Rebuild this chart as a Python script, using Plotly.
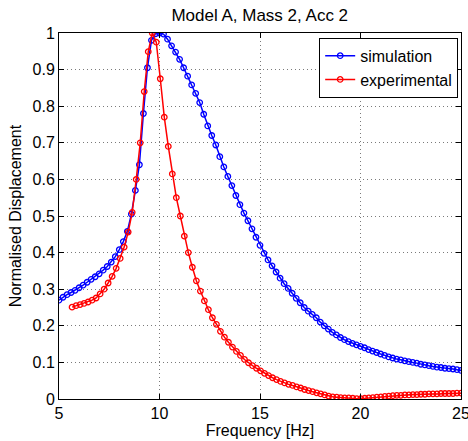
import numpy as np
import plotly.graph_objects as go

# Simulation: normalised displacement, 0.2 Hz steps from 5 to 25 Hz
sim_values = [
    0.270, 0.278, 0.285, 0.291, 0.297, 0.304, 0.311, 0.319, 0.327, 0.334,
    0.342, 0.352, 0.362, 0.374, 0.389, 0.408, 0.430, 0.458, 0.505, 0.570,
    0.640, 0.780, 0.905, 0.980, 0.998, 1.000, 0.997, 0.983, 0.965, 0.948,
    0.928, 0.905, 0.882, 0.858, 0.835, 0.810, 0.778, 0.746, 0.720, 0.694,
    0.662, 0.634, 0.608, 0.583, 0.556, 0.531, 0.508, 0.487, 0.465, 0.442,
    0.420, 0.398, 0.380, 0.364, 0.347, 0.330, 0.315, 0.302, 0.289, 0.275,
    0.263, 0.250, 0.240, 0.231, 0.222, 0.210, 0.200, 0.191, 0.182, 0.175,
    0.168, 0.162, 0.157, 0.152, 0.148, 0.144, 0.140, 0.135, 0.131, 0.127,
    0.123, 0.119, 0.115, 0.112, 0.109, 0.107, 0.104, 0.102, 0.100, 0.098,
    0.095, 0.093, 0.091, 0.089, 0.087, 0.086, 0.084, 0.083, 0.082, 0.080,
    0.078,
]
sim_freq_start, sim_freq_end = 5.0, 25.0

# Experimental: normalised displacement, ~0.2 Hz steps from 5.65 to 25 Hz
exp_values = [
    0.251, 0.255, 0.258, 0.261, 0.265, 0.270, 0.276, 0.287, 0.300, 0.317,
    0.335, 0.357, 0.384, 0.415, 0.456, 0.510, 0.600, 0.700, 0.840, 0.949,
    1.000, 0.975, 0.875, 0.770, 0.690, 0.615, 0.550, 0.500, 0.445, 0.400,
    0.360, 0.323, 0.295, 0.268, 0.244, 0.222, 0.204, 0.185, 0.169, 0.155,
    0.142, 0.130, 0.119, 0.108, 0.099, 0.091, 0.084, 0.077, 0.070, 0.064,
    0.058, 0.053, 0.048, 0.044, 0.040, 0.037, 0.033, 0.030, 0.026, 0.023,
    0.020, 0.017, 0.014, 0.011, 0.008, 0.006, 0.005, 0.004, 0.003, 0.003,
    0.002, 0.001, 0.001, 0.002, 0.003, 0.004, 0.005, 0.006, 0.007, 0.008,
    0.009, 0.010, 0.010, 0.011, 0.011, 0.012, 0.012, 0.013, 0.013, 0.014,
    0.014, 0.014, 0.015, 0.015, 0.015, 0.015, 0.016, 0.016,
]
exp_freq_start, exp_freq_end = 5.65, 25.0

x_ticks = [5, 10, 15, 20, 25]
y_ticks = [0, 0.1, 0.2, 0.3, 0.4, 0.5, 0.6, 0.7, 0.8, 0.9, 1]

sim_freq = np.linspace(sim_freq_start, sim_freq_end, len(sim_values))
exp_freq = np.linspace(exp_freq_start, exp_freq_end, len(exp_values))

FONT = "Liberation Sans, Arial, Helvetica, sans-serif"
FS = 16

fig = go.Figure()
fig.add_trace(go.Scatter(
    x=sim_freq, y=sim_values, name="simulation", mode="lines+markers",
    line=dict(color="#0000FF", width=1.5),
    marker=dict(symbol="circle-open", size=5.5, color="#0000FF", line=dict(width=1.3)),
))
fig.add_trace(go.Scatter(
    x=exp_freq, y=exp_values, name="experimental", mode="lines+markers",
    line=dict(color="#FF0000", width=1.5),
    marker=dict(symbol="circle-open", size=5.5, color="#FF0000", line=dict(width=1.3)),
))

axis_common = dict(
    showline=True, linecolor="black", linewidth=1, mirror="ticks",
    ticks="inside", ticklen=5, tickcolor="black",
    showgrid=True, gridcolor="#7a7a7a", griddash="1px,3px", gridwidth=1,
    zeroline=False, ticklabeloverflow="allow", automargin=False,
    tickfont=dict(family=FONT, size=FS, color="black"),
)

fig.update_xaxes(
    range=[5, 25], tickvals=x_ticks, ticktext=[str(v) for v in x_ticks],
    title=dict(text="Frequency [Hz]", font=dict(family=FONT, size=FS, color="black"), standoff=2),
    **axis_common,
)
fig.update_yaxes(
    range=[0, 1], tickvals=y_ticks, ticktext=[("%g" % v) for v in y_ticks],
    title=dict(text="Normalised Displacement", font=dict(family=FONT, size=FS, color="black"), standoff=6),
    **axis_common,
)

fig.update_layout(
    width=468, height=441,
    margin=dict(l=59, r=7, t=33, b=42, autoexpand=False),
    paper_bgcolor="white", plot_bgcolor="white",
    title=dict(text="Model A, Mass 2, Acc 2", x=0.555, xanchor="center", y=0.965, yanchor="middle",
               font=dict(family=FONT, size=17, color="black")),
    showlegend=True,
    legend=dict(x=0.993, y=0.987, xanchor="right", yanchor="top",
                bgcolor="white", bordercolor="black", borderwidth=1,
                font=dict(family=FONT, size=FS, color="black"),
                itemwidth=30, tracegroupgap=0),
)

fig.write_html("out.html")
